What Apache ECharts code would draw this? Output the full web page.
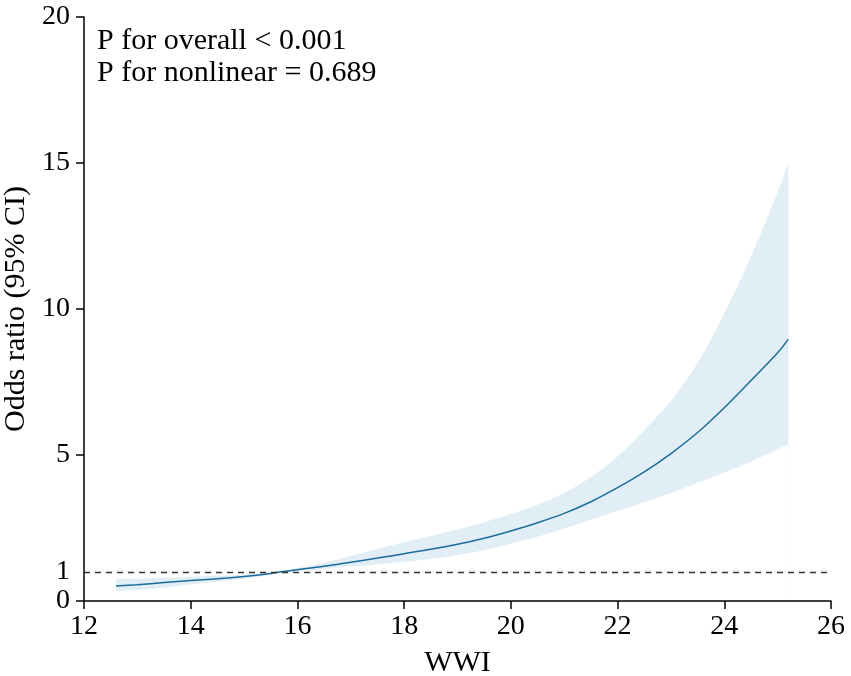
<!DOCTYPE html>
<html>
<head>
<meta charset="utf-8">
<script src="https://cdn.jsdelivr.net/npm/echarts@6/dist/echarts.min.js"></script>
<style>html,body{margin:0;padding:0;background:#fff}#c{width:851px;height:676px}</style>
</head>
<body>
<div id="c"></div>
<script>
var wwi   = [12.6, 13, 13.5, 14, 14.5, 15, 15.5, 15.7, 16, 16.5, 17, 17.5, 18, 18.5, 19, 19.5, 20, 20.5, 21, 21.5, 22, 22.5, 23, 23.5, 24, 24.5, 25, 25.2];
var orVal = [0.51, 0.56, 0.63, 0.70, 0.76, 0.84, 0.94, 1.00, 1.07, 1.19, 1.33, 1.47, 1.62, 1.77, 1.94, 2.15, 2.40, 2.68, 3.00, 3.40, 3.88, 4.42, 5.05, 5.77, 6.62, 7.55, 8.50, 8.97];
var upper = [0.75, 0.77, 0.80, 0.83, 0.87, 0.91, 0.98, 1.02, 1.12, 1.31, 1.54, 1.78, 2.02, 2.23, 2.45, 2.70, 2.98, 3.30, 3.70, 4.25, 4.95, 5.85, 6.85, 8.15, 9.85, 11.8, 14.0, 15.0];
var lower = [0.34, 0.38, 0.45, 0.57, 0.66, 0.76, 0.90, 0.96, 1.02, 1.10, 1.18, 1.26, 1.34, 1.44, 1.57, 1.74, 1.97, 2.20, 2.48, 2.78, 3.08, 3.38, 3.70, 4.05, 4.40, 4.78, 5.20, 5.36];
var xTicks = [12, 14, 16, 18, 20, 22, 24, 26];
var yLabelTicks = [0, 1, 5, 10, 15, 20];
var yMarkTicks = [0, 5, 10, 15, 20];
var refLine = 1;
var annotation = ['P for overall < 0.001', 'P for nonlinear = 0.689'];

var font = '"Liberation Serif", "DejaVu Serif", serif';
var upperData = wwi.map(function (x, i) { return [x, upper[i]]; });
var lowerData = wwi.map(function (x, i) { return [x, lower[i]]; });
var lineData = wwi.map(function (x, i) { return [x, orVal[i]]; });

var chart = echarts.init(document.getElementById('c'));
chart.setOption({
  animation: false,
  backgroundColor: '#fff',
  title: {
    text: annotation.join('\n'),
    left: 92, top: 20,
    textStyle: { fontFamily: font, fontSize: 30, fontWeight: 'normal', color: '#000', lineHeight: 32 }
  },
  grid: { left: 84, right: 20, top: 17, bottom: 75, containLabel: false, outerBoundsMode: 'none' },
  xAxis: {
    type: 'value', min: 12, max: 26, interval: 2, z: 10,
    name: 'WWI', nameLocation: 'middle', nameGap: 47,
    nameTextStyle: { fontFamily: font, fontSize: 30, color: '#000' },
    axisLine: { show: true, onZero: false, lineStyle: { color: '#000', width: 1.5 } },
    axisTick: { show: true, length: 8, lineStyle: { color: '#000', width: 1.5 }, customValues: xTicks },
    axisLabel: { fontFamily: font, fontSize: 28, color: '#000', margin: 12, customValues: xTicks },
    splitLine: { show: false }
  },
  yAxis: {
    type: 'value', min: 0, max: 20, interval: 5, z: 10,
    name: 'Odds ratio (95% CI)', nameLocation: 'middle', nameGap: 42,
    nameTextStyle: { fontFamily: font, fontSize: 30, color: '#000' },
    axisLine: { show: true, lineStyle: { color: '#000', width: 1.5 } },
    axisTick: { show: true, length: 8, lineStyle: { color: '#000', width: 1.5 }, customValues: yMarkTicks },
    axisLabel: { fontFamily: font, fontSize: 28, color: '#000', margin: 14, customValues: yLabelTicks },
    splitLine: { show: false }
  },
  series: [
    {
      name: 'upper', type: 'line', data: upperData, symbol: 'none', smooth: 0.3, z: 1, silent: true,
      lineStyle: { width: 0, opacity: 0 },
      areaStyle: { color: '#e2eef6', opacity: 1 }
    },
    {
      name: 'lower', type: 'line', data: lowerData, symbol: 'none', smooth: 0.3, z: 2, silent: true,
      lineStyle: { width: 0, opacity: 0 },
      areaStyle: { color: '#ffffff', opacity: 1 }
    },
    {
      name: 'OR', type: 'line', data: lineData, symbol: 'none', smooth: 0.3, z: 3,
      lineStyle: { color: '#1b6c9c', width: 1.5 },
      markLine: {
        silent: true, symbol: 'none', label: { show: false },
        lineStyle: { color: '#333', type: [6, 5], width: 1.3 },
        data: [{ yAxis: refLine }]
      }
    }
  ]
});
</script>
</body>
</html>
